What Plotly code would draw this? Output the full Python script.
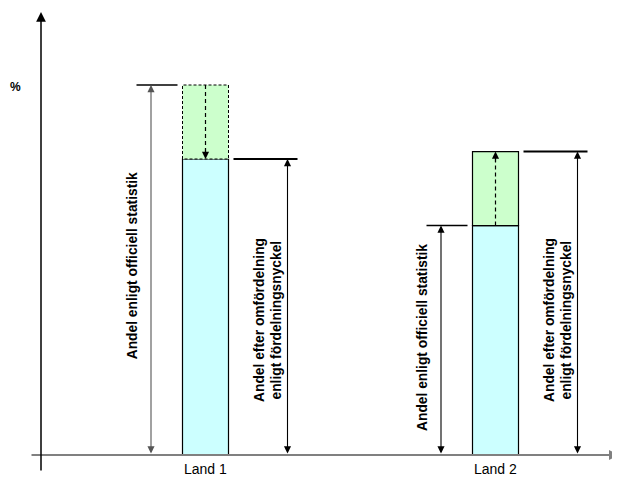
import plotly.graph_objects as go

# ---- data ----
categories = ["Land 1", "Land 2"]
official = [50, 31]        # Andel enligt officiell statistik
redistributed = [40, 41]   # Andel efter omfördelning enligt fördelningsnyckel
y_unit = "%"
label_official = "Andel enligt officiell statistik"
label_after = ["Andel efter omfördelning", "enligt fördelningsnyckel"]

# ---- layout constants (window pixels) ----
PAGE_M = 8        # default body margin of the html page
W, H = 620 - PAGE_M, 486 - PAGE_M
PX_X = 290.0      # px between categories
PX_Y = 7.4        # px per value unit
BASE_PY = 455 - PAGE_M     # baseline row in figure pixels
FIRST_PX = 205.5 - PAGE_M  # first category column in figure pixels

x0 = 1 - FIRST_PX / PX_X
x1 = x0 + W / PX_X
y0 = -(H - BASE_PY) / PX_Y
y1 = BASE_PY / PX_Y


def dx(px):
    return px / PX_X


def dy(px):
    return px / PX_Y


def xp(px):  # window pixel column -> data x
    return x0 + (px - PAGE_M) / PX_X


def yp(py):  # window pixel row -> data y
    return (BASE_PY - (py - PAGE_M)) / PX_Y


FONT = "Arial, Liberation Sans, sans-serif"
xs = list(range(1, len(categories) + 1))
low = [min(a, b) for a, b in zip(official, redistributed)]
diff = [abs(a - b) for a, b in zip(official, redistributed)]
reduced = [a > b for a, b in zip(official, redistributed)]
BW = dx(46)

fig = go.Figure()
fig.add_trace(go.Bar(
    x=xs, y=low, width=BW, hoverinfo="skip",
    marker=dict(color="#CCFFFF", line=dict(color="black", width=1.2)),
))
fig.add_trace(go.Bar(
    x=xs, y=diff, base=low, width=BW, hoverinfo="skip",
    marker=dict(color="#CCFFCC",
                line=dict(color="black", width=[0 if r else 1.2 for r in reduced])),
))

annotations = []
shapes = []

for c, off, aft, lo, r in zip(xs, official, redistributed, low, reduced):
    hi = max(off, aft)
    if r:
        # dashed outline of the removed share
        fig.add_trace(go.Scatter(
            x=[c - BW / 2, c - BW / 2, c + BW / 2, c + BW / 2, c - BW / 2],
            y=[lo, hi, hi, lo, lo], mode="lines", hoverinfo="skip",
            line=dict(color="black", width=1, dash="3px,2px"),
        ))
    # dashed arrow inside green part (from official to redistributed)
    sign = 1 if aft > off else -1
    fig.add_trace(go.Scatter(
        x=[c, c], y=[off, aft - sign * dy(6)], mode="lines", hoverinfo="skip",
        line=dict(color="black", width=1.2, dash="4px,3px"),
    ))
    annotations.append(dict(
        x=c, y=aft, ax=c, ay=aft - sign * dy(12), xref="x", yref="y",
        axref="x", ayref="y", showarrow=True, arrowhead=2, arrowsize=1.3,
        arrowwidth=1.1, arrowcolor="black", text="",
    ))

    # official measurement
    shapes.append(dict(type="line", x0=c + dx(-69), x1=c + dx(-28), y0=off, y1=off,
                       xref="x", yref="y", line=dict(color="black", width=1.5)))
    annotations.append(dict(
        x=c + dx(-54.5), y=off, ax=c + dx(-54.5), ay=0, xref="x", yref="y",
        axref="x", ayref="y", showarrow=True, arrowhead=2, arrowsize=1.3,
        arrowwidth=1.1, arrowside="end+start",
        arrowcolor="#555555" if r else "black", text="",
    ))
    annotations.append(dict(
        x=c + dx(-73.5), y=off * 0.51, text=f"<b>{label_official}</b>",
        textangle=-90, showarrow=False, xref="x", yref="y",
        font=dict(family=FONT, size=13.8, color="black"),
    ))

    # redistributed measurement
    shapes.append(dict(type="line", x0=c + dx(28), x1=c + dx(92), y0=aft, y1=aft,
                       xref="x", yref="y", line=dict(color="black", width=2)))
    annotations.append(dict(
        x=c + dx(82), y=aft, ax=c + dx(82), ay=0, xref="x", yref="y",
        axref="x", ayref="y", showarrow=True, arrowhead=2, arrowsize=1.3,
        arrowwidth=1.1, arrowside="end+start", arrowcolor="black", text="",
    ))
    for k, line in enumerate(label_after):
        annotations.append(dict(
            x=c + dx(53.5 + 16.5 * k), y=dy(135), text=f"<b>{line}</b>",
            textangle=-90, showarrow=False, xref="x", yref="y",
            font=dict(family=FONT, size=13.8, color="black"),
        ))

# axes drawn as arrows
annotations.append(dict(
    x=xp(619), y=0, ax=xp(30), ay=0, xref="x", yref="y", axref="x", ayref="y",
    showarrow=True, arrowhead=2, arrowsize=1.0, arrowwidth=2,
    arrowcolor="#808080", text="",
))
annotations.append(dict(
    x=xp(41), y=yp(12), ax=xp(41), ay=yp(472), xref="x", yref="y",
    axref="x", ayref="y", showarrow=True, arrowhead=2, arrowsize=1.3,
    arrowwidth=1.5, arrowcolor="black", text="",
))
annotations.append(dict(
    x=xp(15), y=yp(87), text=f"<b>{y_unit}</b>", showarrow=False,
    xref="x", yref="y", font=dict(family=FONT, size=12, color="black"),
))
# category labels
for c, name in zip(xs, categories):
    annotations.append(dict(
        x=c, y=0, yshift=-14, text=name, showarrow=False, xref="x", yref="y",
        font=dict(family=FONT, size=14, color="black"),
    ))

fig.update_layout(
    width=W, height=H, margin=dict(l=0, r=0, t=0, b=0),
    paper_bgcolor="white", plot_bgcolor="white",
    barmode="overlay", showlegend=False,
    xaxis=dict(range=[x0, x1], visible=False, fixedrange=True),
    yaxis=dict(range=[y0, y1], visible=False, fixedrange=True),
    annotations=annotations, shapes=shapes,
)

fig.write_html("out.html")
